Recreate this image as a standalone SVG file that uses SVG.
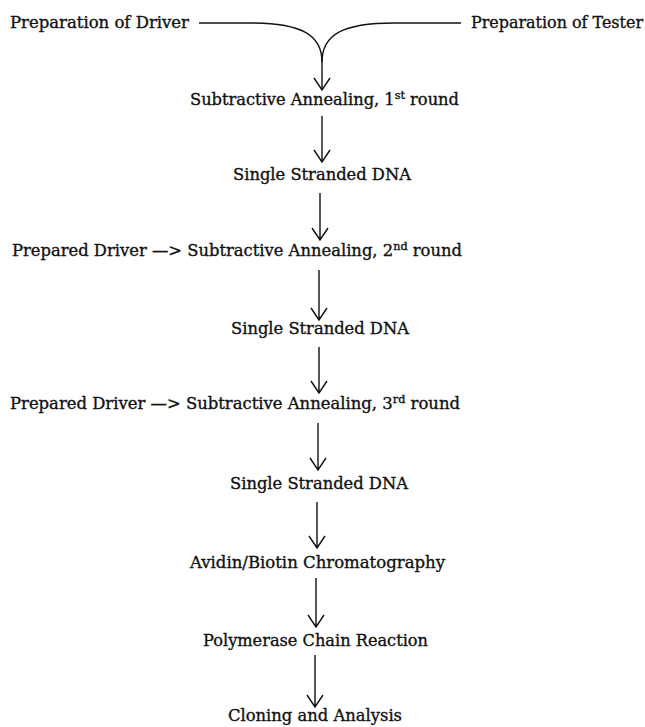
<svg xmlns="http://www.w3.org/2000/svg" width="645" height="727" viewBox="0 0 645 727">
<defs>
<style>
text{font-family:"DejaVu Serif","Liberation Serif",serif;font-size:16px;fill:#111;stroke:#111;stroke-width:0.35;}
.ln{fill:none;stroke:#111;stroke-width:1.4;}
.sup{font-size:11px;}
</style>
</defs>
<rect width="645" height="727" fill="#fff"/>
<g id="connectors">
<path class="ln" d="M199,23 H250 C302,23 322,35 322,62 V89"/>
<path class="ln" d="M461,23 H394 C342,23 322,35 322,62"/>
<path class="ln" d="M314,78 L322,90 L330,78"/>
<path class="ln" d="M322,116 V162 M314,150 L322,162 L330,150"/>
<path class="ln" d="M320,193 V240 M312,228 L320,240 L328,228"/>
<path class="ln" d="M319,270 V320 M311,308 L319,320 L327,308"/>
<path class="ln" d="M319,347 V393 M311,381 L319,393 L327,381"/>
<path class="ln" d="M318,423 V470 M310,458 L318,470 L326,458"/>
<path class="ln" d="M317,502 V548 M309,536 L317,548 L325,536"/>
<path class="ln" d="M316,578 V627 M308,615 L316,627 L324,615"/>
<path class="ln" d="M315,655 V707 M307,695 L315,707 L323,695"/>
</g>
<g id="driver"><text x="10" y="28" textLength="179" lengthAdjust="spacingAndGlyphs">Preparation of Driver</text></g>
<g id="tester"><text x="471" y="28" textLength="172" lengthAdjust="spacingAndGlyphs">Preparation of Tester</text></g>
<g id="sa1"><text x="190" y="105" textLength="269" lengthAdjust="spacingAndGlyphs">Subtractive Annealing, 1<tspan class="sup" dy="-6">st</tspan><tspan dy="6"> round</tspan></text></g>
<g id="ss1"><text x="233" y="180" textLength="178" lengthAdjust="spacingAndGlyphs">Single Stranded DNA</text></g>
<g id="sa2"><text x="12" y="256" textLength="450" lengthAdjust="spacingAndGlyphs">Prepared Driver —&gt; Subtractive Annealing, 2<tspan class="sup" dy="-6">nd</tspan><tspan dy="6"> round</tspan></text></g>
<g id="ss2"><text x="231" y="334" textLength="178" lengthAdjust="spacingAndGlyphs">Single Stranded DNA</text></g>
<g id="sa3"><text x="10" y="409" textLength="450" lengthAdjust="spacingAndGlyphs">Prepared Driver —&gt; Subtractive Annealing, 3<tspan class="sup" dy="-6">rd</tspan><tspan dy="6"> round</tspan></text></g>
<g id="ss3"><text x="230" y="489" textLength="178" lengthAdjust="spacingAndGlyphs">Single Stranded DNA</text></g>
<g id="avidin"><text x="190" y="568" textLength="255" lengthAdjust="spacingAndGlyphs">Avidin/Biotin Chromatography</text></g>
<g id="pcr"><text x="203" y="646" textLength="225" lengthAdjust="spacingAndGlyphs">Polymerase Chain Reaction</text></g>
<g id="cloning"><text x="228" y="721" textLength="174" lengthAdjust="spacingAndGlyphs">Cloning and Analysis</text></g>
</svg>
